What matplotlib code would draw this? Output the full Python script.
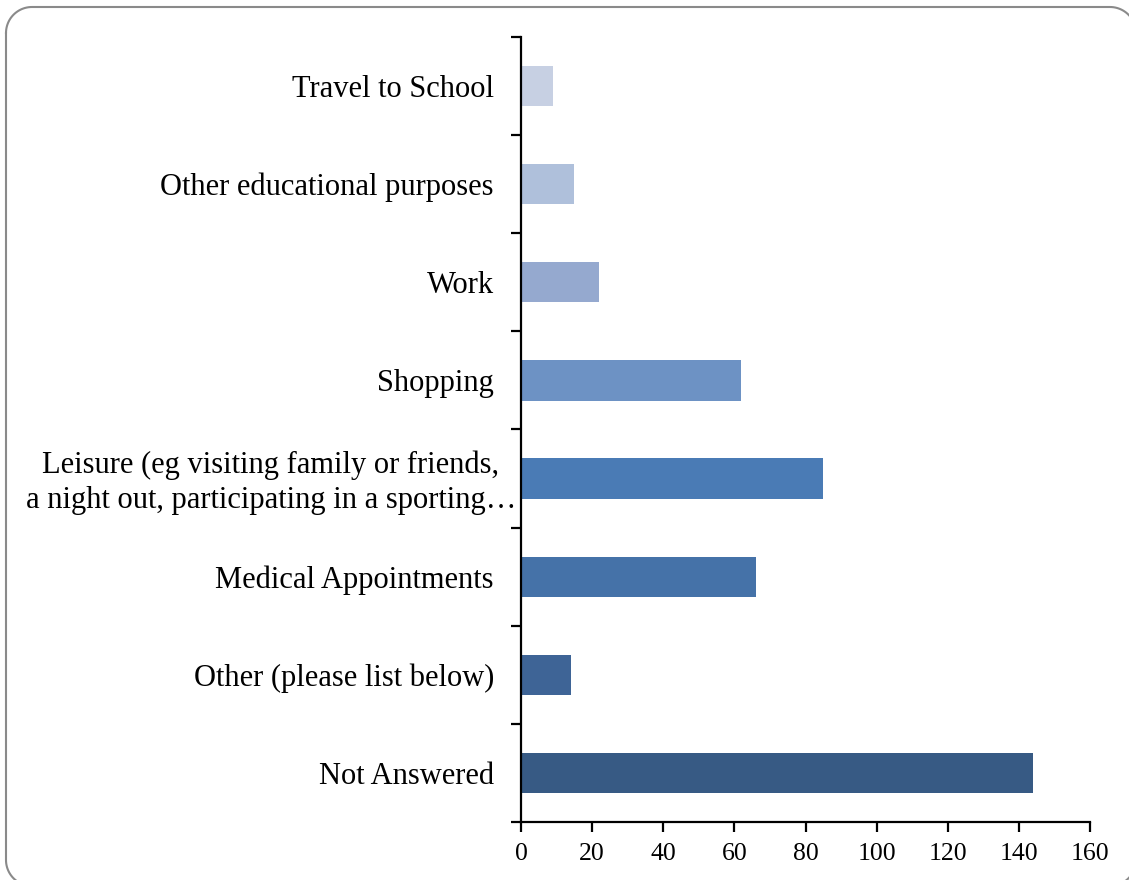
import matplotlib
matplotlib.use("Agg")
import matplotlib.pyplot as plt
import matplotlib.transforms as mtransforms
import numpy as np

# dados (de cima para baixo)
categorias = ["Travel to School",
              "Other educational purposes",
              "Work",
              "Shopping",
              "Leisure (eg visiting family or friends,\na night out, participating in a sporting\u2026",
              "Medical Appointments",
              "Other (please list below)",
              "Not Answered"]
valores = [9, 15, 22, 62, 85, 66, 14, 144]
cores = ["#C7D0E3", "#AFC0DB", "#95A9CF", "#6D92C4", "#4A7BB5", "#4572A8", "#3E6496", "#375A84"]
xticks = [0, 20, 40, 60, 80, 100, 120, 140, 160]

plt.rcParams['font.family'] = ['Liberation Serif', 'DejaVu Serif']

fig = plt.figure(figsize=(11.29, 8.8), dpi=100)

# eixo de fundo em pixels so para a moldura arredondada
fundo = fig.add_axes([0, 0, 1, 1])
fundo.set_xlim(0, 1129)
fundo.set_ylim(880, 0)
fundo.axis('off')

def canto(cx, cy, r, a0, a1):
    t = np.linspace(np.radians(a0), np.radians(a1), 25)
    return cx + r * np.cos(t), cy - r * np.sin(t)

r = 26
esq, topo, dir_, base = 6, 7, 1136, 886
xs, ys = [], []
for cx, cy, a0, a1 in [(esq + r, topo + r, 180, 90), (dir_ - r, topo + r, 90, 0),
                       (dir_ - r, base - r, 0, -90), (esq + r, base - r, -90, -180)]:
    px, py = canto(cx, cy, r, a0, a1)
    xs += list(px)
    ys += list(py)
xs.append(xs[0])
ys.append(ys[0])
fundo.plot(xs, ys, color="#8a8a8a", linewidth=1.5, clip_on=False)

ax = fig.add_axes([521/1129, 1 - 822/880, (1090-521)/1129, (822-37)/880])
ax.patch.set_alpha(0)

n = len(categorias)
pos = list(range(n - 1, -1, -1))
ax.barh(pos, valores, height=0.41, color=cores)

ax.set_xlim(0, 160)
ax.set_ylim(-0.5, n - 0.5)
ax.set_xticks(xticks)
ax.set_xticklabels([str(v) for v in xticks], fontsize=18.5)

# rotulos do eixo y; o de Leisure vai separado porque passa do alinhamento
ax.set_yticks(pos)
rotulos = [c if "\n" not in c else "" for c in categorias]
ax.set_yticklabels(rotulos, fontsize=22)
ax.set_yticks([i - 0.5 for i in range(n + 1)], minor=True)

for c, p in zip(categorias, pos):
    if "\n" in c:
        trans = mtransforms.offset_copy(ax.get_yaxis_transform(), fig=fig, x=-5, y=-4, units='dots')
        ax.text(0, p, c, transform=trans, ha='right', va='center', fontsize=22,
                multialignment='center', linespacing=1.3)

for s in ["top", "right"]:
    ax.spines[s].set_visible(False)
for s in ["left", "bottom"]:
    ax.spines[s].set_linewidth(1.6)
    ax.spines[s].set_color("black")

ax.tick_params(axis='y', which='major', length=0, pad=19.5)
ax.tick_params(axis='y', which='minor', length=7, width=1.6, direction='out')
ax.tick_params(axis='x', length=7, width=1.6, direction='out', pad=8)

fig.savefig("out.png", dpi=100)
